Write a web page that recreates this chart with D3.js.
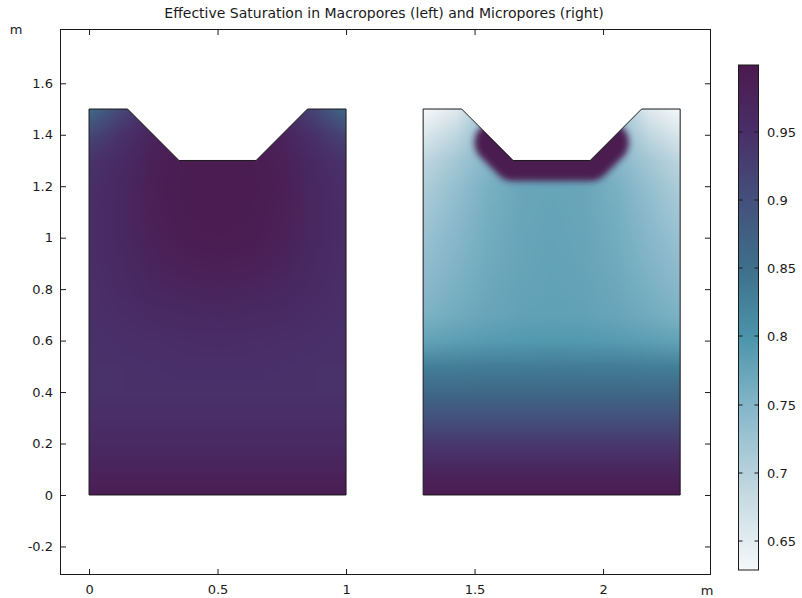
<!DOCTYPE html>
<html>
<head>
<meta charset="utf-8">
<script src="https://cdn.jsdelivr.net/npm/d3@7"></script>
<style>
body { margin: 0; background: #fff; }
text { font-family: "DejaVu Sans", sans-serif; fill: #1a1a1a; }
</style>
</head>
<body>
<svg id="canvas" width="802" height="598"></svg>
<script>
// sample grid (m), columns relative to each block's left edge, rows top first
let gridX = [0, 0.125, 0.25, 0.375, 0.5, 0.625, 0.75, 0.875, 1]
let gridY = [1.5, 1.4, 1.3, 1.2, 1.1, 1.0, 0.9, 0.8, 0.7, 0.6, 0.5, 0.4, 0.3, 0.2, 0.1, 0]

// effective saturation, macropores (left block)
let macroValues = [
    [0.86, 0.915, 0.96, 0.99, 0.99, 0.99, 0.96, 0.915, 0.86],
    [0.915, 0.945, 0.975, 0.99, 0.993, 0.99, 0.975, 0.945, 0.915],
    [0.943, 0.96, 0.982, 0.992, 0.994, 0.992, 0.982, 0.96, 0.943],
    [0.948, 0.964, 0.984, 0.993, 0.995, 0.993, 0.984, 0.964, 0.948],
    [0.95, 0.965, 0.983, 0.992, 0.994, 0.992, 0.983, 0.965, 0.95],
    [0.95, 0.964, 0.98, 0.99, 0.992, 0.99, 0.98, 0.964, 0.95],
    [0.95, 0.961, 0.974, 0.982, 0.985, 0.982, 0.974, 0.961, 0.95],
    [0.949, 0.957, 0.966, 0.972, 0.974, 0.972, 0.966, 0.957, 0.949],
    [0.948, 0.952, 0.957, 0.961, 0.962, 0.961, 0.957, 0.952, 0.948],
    [0.946, 0.948, 0.951, 0.953, 0.954, 0.953, 0.951, 0.948, 0.946],
    [0.945, 0.946, 0.947, 0.948, 0.948, 0.948, 0.947, 0.946, 0.945],
    [0.946, 0.946, 0.946, 0.946, 0.946, 0.946, 0.946, 0.946, 0.946],
    [0.951, 0.951, 0.951, 0.951, 0.951, 0.951, 0.951, 0.951, 0.951],
    [0.96, 0.96, 0.96, 0.96, 0.96, 0.96, 0.96, 0.96, 0.96],
    [0.974, 0.974, 0.974, 0.974, 0.974, 0.974, 0.974, 0.974, 0.974],
    [0.99, 0.99, 0.99, 0.99, 0.99, 0.99, 0.99, 0.99, 0.99]
]

// effective saturation, micropores (right block)
let microValues = [
    [0.629, 0.655, 0.72, 0.775, 0.775, 0.775, 0.72, 0.655, 0.629],
    [0.66, 0.69, 0.74, 0.775, 0.775, 0.775, 0.74, 0.69, 0.66],
    [0.69, 0.718, 0.748, 0.772, 0.775, 0.772, 0.748, 0.718, 0.69],
    [0.708, 0.732, 0.757, 0.772, 0.775, 0.772, 0.757, 0.732, 0.708],
    [0.718, 0.74, 0.761, 0.773, 0.776, 0.773, 0.761, 0.74, 0.718],
    [0.727, 0.746, 0.764, 0.774, 0.777, 0.774, 0.764, 0.746, 0.727],
    [0.735, 0.752, 0.767, 0.775, 0.778, 0.775, 0.767, 0.752, 0.735],
    [0.744, 0.758, 0.77, 0.777, 0.779, 0.777, 0.77, 0.758, 0.744],
    [0.755, 0.765, 0.774, 0.779, 0.781, 0.779, 0.774, 0.765, 0.755],
    [0.778, 0.784, 0.789, 0.792, 0.793, 0.792, 0.789, 0.784, 0.778],
    [0.828, 0.83, 0.832, 0.833, 0.834, 0.833, 0.832, 0.83, 0.828],
    [0.862, 0.862, 0.862, 0.862, 0.862, 0.862, 0.862, 0.862, 0.862],
    [0.898, 0.898, 0.898, 0.898, 0.898, 0.898, 0.898, 0.898, 0.898],
    [0.935, 0.935, 0.935, 0.935, 0.935, 0.935, 0.935, 0.935, 0.935],
    [0.97, 0.97, 0.97, 0.97, 0.97, 0.97, 0.97, 0.97, 0.97],
    [0.995, 0.995, 0.995, 0.995, 0.995, 0.995, 0.995, 0.995, 0.995]
]

// saturated layer along the trench in the micropore block
let bandX = [0.28, 0.35, 0.65, 0.72]
let bandY = [1.37, 1.3, 1.3, 1.37]
let bandValue = 0.999
let bandHalfWidth = 0.08

// block geometry (m)
let blockOffsets = [0, 1.3]
let outlineX = [0, 0, 0.15, 0.35, 0.65, 0.85, 1, 1]
let outlineY = [0, 1.5, 1.5, 1.3, 1.3, 1.5, 1.5, 0]

let xTicks = [0, 0.5, 1, 1.5, 2]
let yTicks = [-0.2, 0, 0.2, 0.4, 0.6, 0.8, 1, 1.2, 1.4, 1.6]
let colorTicks = [0.65, 0.7, 0.75, 0.8, 0.85, 0.9, 0.95]
let colorStops = [0.6287, 0.65, 0.7, 0.75, 0.8, 0.85, 0.9, 0.95, 0.999]
let colorHex = ['#f5f8fa', '#e3ecf0', '#b6d1dc', '#83b5c8', '#4a94aa', '#3e6f8b', '#44507b', '#492e68', '#4b1a4f']

let canvas = d3.select('#canvas')

let xScale = d3.scaleLinear().domain([-0.113, 2.42]).range([60, 711])
let yScale = d3.scaleLinear().domain([-0.311, 1.811]).range([575, 29])
let colorScale = d3.scaleLinear().domain(colorStops).range(colorHex).clamp(true)
let barScale = d3.scaleLinear().domain([colorStops[0], colorStops[colorStops.length - 1]]).range([570, 65])

let defs = canvas.append('defs')

let outlinePoints = (offset) => {
    return outlineX.map((x, i) => [xScale(offset + x), yScale(outlineY[i])])
}

blockOffsets.forEach((offset, b) => {
    defs.append('clipPath').attr('id', 'clip' + b)
        .append('polygon')
        .attr('points', outlinePoints(offset).join(' '))
})

defs.append('filter')
    .attr('id', 'soft')
    .attr('filterUnits', 'userSpaceOnUse')
    .attr('x', 0).attr('y', 0).attr('width', 802).attr('height', 598)
    .append('feGaussianBlur')
    .attr('stdDeviation', 3)

let drawField = (values, offset, b) => {
    let cnv = document.createElement('canvas')
    cnv.width = gridX.length
    cnv.height = gridY.length
    let ctx = cnv.getContext('2d')
    values.forEach((row, j) => {
        row.forEach((v, i) => {
            ctx.fillStyle = colorScale(v)
            ctx.fillRect(i, j, 1, 1)
        })
    })
    let hx = (gridX[1] - gridX[0]) / 2
    let hy = (gridY[0] - gridY[1]) / 2
    let x0 = xScale(offset + gridX[0] - hx)
    let x1 = xScale(offset + gridX[gridX.length - 1] + hx)
    let y0 = yScale(gridY[0] + hy)
    let y1 = yScale(gridY[gridY.length - 1] - hy)

    let g = canvas.append('g').attr('clip-path', 'url(#clip' + b + ')')
    g.append('image')
        .attr('href', cnv.toDataURL())
        .attr('x', x0)
        .attr('y', y0)
        .attr('width', x1 - x0)
        .attr('height', y1 - y0)
        .attr('preserveAspectRatio', 'none')
    return g
}

drawField(macroValues, blockOffsets[0], 0)
let microGroup = drawField(microValues, blockOffsets[1], 1)

let bandLine = d3.line()
    .x((d) => xScale(blockOffsets[1] + d[0]))
    .y((d) => yScale(d[1]))

microGroup.append('g')
    .attr('filter', 'url(#soft)')
    .append('path')
    .attr('d', bandLine(bandX.map((x, i) => [x, bandY[i]])))
    .attr('fill', 'none')
    .attr('stroke', colorScale(bandValue))
    .attr('stroke-width', 2 * (yScale(0) - yScale(bandHalfWidth)))
    .attr('stroke-linecap', 'round')
    .attr('stroke-linejoin', 'round')

blockOffsets.forEach((offset) => {
    canvas.append('polygon')
        .attr('points', outlinePoints(offset).join(' '))
        .attr('fill', 'none')
        .attr('stroke', '#1a1a1a')
        .attr('stroke-width', 1)
})

// axes, ticks pointing inward on all four sides
let fmt = (d) => String(d)

canvas.append('g')
    .attr('transform', 'translate(0,575)')
    .call(d3.axisBottom(xScale).tickValues(xTicks).tickSize(-6).tickPadding(10).tickFormat(fmt))
canvas.append('g')
    .attr('transform', 'translate(0,29)')
    .call(d3.axisTop(xScale).tickValues(xTicks).tickSize(-6).tickFormat(''))
canvas.append('g')
    .attr('transform', 'translate(60,0)')
    .call(d3.axisLeft(yScale).tickValues(yTicks).tickSize(-6).tickPadding(7).tickFormat(fmt))
canvas.append('g')
    .attr('transform', 'translate(711,0)')
    .call(d3.axisRight(yScale).tickValues(yTicks).tickSize(-6).tickFormat(''))

canvas.selectAll('.domain').remove()
canvas.selectAll('.tick line').attr('stroke', '#1a1a1a')
canvas.selectAll('.tick text').attr('font-size', 13).attr('font-family', '"DejaVu Sans", sans-serif').attr('fill', '#1a1a1a')

canvas.append('rect')
    .attr('x', 60.5).attr('y', 29.5)
    .attr('width', 650).attr('height', 545)
    .attr('fill', 'none')
    .attr('stroke', '#1a1a1a')

canvas.append('text')
    .attr('x', 16).attr('y', 34)
    .attr('text-anchor', 'middle')
    .attr('font-size', 13)
    .text('m')
canvas.append('text')
    .attr('x', 707).attr('y', 595)
    .attr('text-anchor', 'middle')
    .attr('font-size', 13)
    .text('m')

canvas.append('text')
    .attr('x', 384).attr('y', 18)
    .attr('text-anchor', 'middle')
    .attr('font-size', 14)
    .text('Effective Saturation in Macropores (left) and Micropores (right)')

// colour legend
let grad = defs.append('linearGradient')
    .attr('id', 'bar')
    .attr('x1', 0).attr('y1', 1).attr('x2', 0).attr('y2', 0)
grad.selectAll('stop')
    .data(colorStops)
    .enter()
    .append('stop')
    .attr('offset', (v) => (570 - barScale(v)) / 505)
    .attr('stop-color', (v) => colorScale(v))

canvas.append('rect')
    .attr('x', 738.5).attr('y', 65)
    .attr('width', 20).attr('height', 505)
    .attr('fill', 'url(#bar)')
    .attr('stroke', '#1a1a1a')

let barTicks = canvas.selectAll('.barTick')
    .data(colorTicks)
    .enter()
    .append('g')
    .attr('class', 'barTick')
    .attr('transform', (v) => 'translate(0,' + Math.round(barScale(v)) + ')')

barTicks.append('line').attr('x1', 738.5).attr('x2', 742.5).attr('stroke', '#1a1a1a')
barTicks.append('line').attr('x1', 754.5).attr('x2', 758.5).attr('stroke', '#1a1a1a')
barTicks.append('text')
    .attr('x', 767)
    .attr('dy', '0.36em')
    .attr('font-size', 13)
    .text(fmt)
</script>
</body>
</html>
